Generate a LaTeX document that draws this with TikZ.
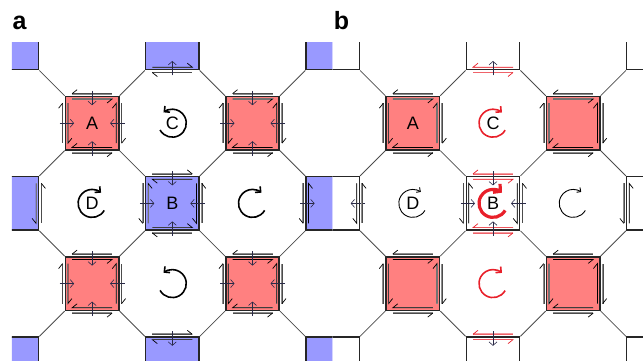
\documentclass[tikz,border=0pt]{standalone}
\usepackage{fontspec}
\setmainfont{Liberation Sans}
\usetikzlibrary{arrows.meta,calc}

\definecolor{redcell}{HTML}{FF8080}
\definecolor{bluecell}{HTML}{9999FF}
\definecolor{spinred}{HTML}{E8202A}
\definecolor{inkblue}{HTML}{2A2A48}

\tikzset{
	cell/.style={draw=black!85,line width=1.5pt,minimum size=53.4pt,inner sep=0pt},
	link/.style={draw=black!70,line width=0.8pt},
	harp/.style={line width=0.7pt,line join=miter},
	inward/.style={inkblue,line width=0.6pt,-{Straight Barb[length=3.5pt,width=8pt]}},
	spin/.style={-{Straight Barb[length=4pt,width=8pt]}},
	tag/.style={font=\fontsize{18}{18}\selectfont},
	panel/.style={font=\bfseries\fontsize{25}{25}\selectfont}
}

% top side of a square; #1 square, #2 mirror, #3 side, #4 line, #5 halo
\newcommand{\hside}[5]{
	\begin{scope}[shift={(#1)},xscale=#2*#3,yscale=#3]
		\draw[#5,line width=1.7pt] (-20,-29.5) -- (20,-29.5);
		\draw[#4!30,line width=1.1pt] (-20,-24.2) -- (20,-24.2);
		\draw[#4!70,line width=0.4pt] (-20,-29.5) -- (20,-29.5);
		\draw[harp,#4] (-15,-33.5) -- (-20,-29.5);
		\draw[harp,#4] (15,-20.2) -- (20,-24.2) -- (-20,-24.2);
	\end{scope}
}
% left side of a square; same arguments
\newcommand{\vside}[5]{
	\begin{scope}[shift={(#1)},xscale=#3,yscale=#2*#3]
		\draw[#5,line width=1.7pt] (-29.5,-20) -- (-29.5,20);
		\draw[#4!30,line width=1.1pt] (-24.2,-20) -- (-24.2,20);
		\draw[#4!70,line width=0.4pt] (-29.5,-20) -- (-29.5,20);
		\draw[harp,#4] (-33.5,-15) -- (-29.5,-20);
		\draw[harp,#4] (-20.2,15) -- (-24.2,20) -- (-24.2,-20);
	\end{scope}
}
\newcommand{\inarrow}[2]{
	\draw[inward,shift={(#1)},rotate=#2] (0,-32.5) -- (0,-18);
}

\begin{document}
\begin{tikzpicture}[x=1pt,y=-1pt]
	\useasboundingbox (0,0) rectangle (643,361);

	\foreach \p/\ox/\bluefill/\xa/\xb in {a/11.9/bluecell/11.9/332.5,b/332.6/white/332.5/643}{
		\begin{scope}
			\clip (\xa,43) rectangle (\xb,361);
			\foreach \i in {0,2,4}
				\foreach \j in {0,2,4}
					\node[cell,fill=\bluefill] (\p-\i-\j) at (\ox+80.2*\i,43+80.2*\j) {};
			\foreach \i in {1,3}
				\foreach \j in {1,3}
					\node[cell,fill=redcell] (\p-\i-\j) at (\ox+80.2*\i,43+80.2*\j) {};
			\foreach \i in {1,3}
				\foreach \j in {1,3}
					\foreach \dx/\dy/\from/\to in {-1/-1/north west/south east,1/-1/north east/south west,-1/1/south west/north east,1/1/south east/north west}{
						\pgfmathtruncatemacro{\k}{\i+\dx}
						\pgfmathtruncatemacro{\l}{\j+\dy}
						\draw[link] (\p-\i-\j.\from) -- (\p-\k-\l.\to);
					}
		\end{scope}
	}

	% the red squares
	\foreach \p in {a,b}
		\foreach \i in {1,3}
			\foreach \j in {1,3}{
				\hside{\p-\i-\j}{1}{1}{black}{black!45}
				\hside{\p-\i-\j}{1}{-1}{black}{black!45}
				\vside{\p-\i-\j}{1}{1}{black}{black!45}
				\vside{\p-\i-\j}{1}{-1}{black}{black!45}
			}
	\foreach \i in {1,3}
		\foreach \j in {1,3}
			\foreach \r in {0,90,180,270}{
				\inarrow{a-\i-\j}{\r}
			}

	% the squares round B
	\hside{a-2-0}{-1}{-1}{black}{black!45}
	\hside{a-2-2}{-1}{1}{black}{black!45}
	\hside{a-2-2}{-1}{-1}{black}{black!45}
	\hside{a-2-4}{-1}{1}{black}{black!45}
	\hside{b-2-0}{1}{-1}{spinred}{spinred!45}
	\hside{b-2-2}{1}{1}{spinred}{spinred!45}
	\hside{b-2-2}{1}{-1}{spinred}{spinred!45}
	\hside{b-2-4}{1}{1}{spinred}{spinred!45}
	\foreach \p in {a,b}{
		\vside{\p-0-2}{-1}{-1}{black}{black!45}
		\vside{\p-2-2}{-1}{1}{black}{black!45}
		\vside{\p-2-2}{-1}{-1}{black}{black!45}
		\vside{\p-4-2}{-1}{1}{black}{black!45}
		\inarrow{\p-2-0}{180}
		\inarrow{\p-2-4}{0}
		\inarrow{\p-0-2}{90}
		\inarrow{\p-4-2}{270}
		\foreach \r in {0,90,180,270}{
			\inarrow{\p-2-2}{\r}
		}
	}

	% circulation
	\draw[spin,line width=1.6pt] ($(a-2-0)!.5!(a-2-2)$) ++(151:14) arc[start angle=151,end angle=-129,radius=14];
	\draw[spin,line width=1.6pt] ($(a-2-2)!.5!(a-2-4)$) ++(151:14) arc[start angle=151,end angle=-129,radius=14];
	\draw[spin,line width=1.6pt] ($(a-0-2)!.5!(a-2-2)$) ++(30:14) arc[start angle=30,end angle=310,radius=14];
	\draw[spin,line width=1.6pt] ($(a-2-2)!.5!(a-4-2)$) ++(30:14) arc[start angle=30,end angle=310,radius=14];
	\draw[spin,spinred,line width=1.6pt] ($(b-2-0)!.5!(b-2-2)$) ++(30:14) arc[start angle=30,end angle=310,radius=14];
	\draw[spin,spinred,line width=1.6pt] ($(b-2-2)!.5!(b-2-4)$) ++(30:14) arc[start angle=30,end angle=310,radius=14];
	\draw[spinred,line width=3.2pt,-{Straight Barb[length=5pt,width=11pt]}] (b-2-2) ++(30:14) arc[start angle=30,end angle=310,radius=14];
	\draw[line width=0.9pt,-{Straight Barb[length=3pt,width=6pt]}] ($(b-0-2)!.5!(b-2-2)$) ++(30:14) arc[start angle=30,end angle=305,radius=14];
	\draw[line width=0.9pt,-{Straight Barb[length=3pt,width=6pt]}] ($(b-2-2)!.5!(b-4-2)$) ++(30:14) arc[start angle=30,end angle=305,radius=14];

	\node[tag] (labelA) at (a-1-1) {A};
	\node[tag] (labelB) at (a-2-2) {B};
	\node[tag] (labelC) at ($(a-2-0)!.5!(a-2-2)$) {C};
	\node[tag] (labelD) at ($(a-0-2)!.5!(a-2-2)$) {D};
	\node[tag] (labelAb) at (b-1-1) {A};
	\node[tag] (labelBb) at (b-2-2) {B};
	\node[tag] (labelCb) at ($(b-2-0)!.5!(b-2-2)$) {C};
	\node[tag] (labelDb) at ($(b-0-2)!.5!(b-2-2)$) {D};

	\node[panel] (panelA) at (19.5,23) {a};
	\node[panel] (panelB) at (341.5,21) {b};
\end{tikzpicture}
\end{document}
